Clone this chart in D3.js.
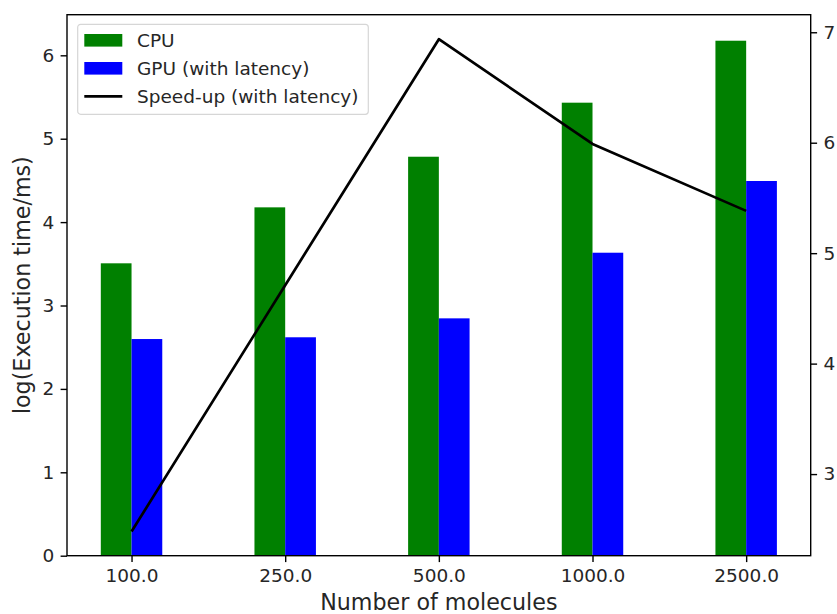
<!DOCTYPE html>
<html>
<head>
<meta charset="utf-8">
<script src="https://cdn.jsdelivr.net/npm/d3@7"></script>
<style>
  body { margin: 0; background: #fff; }
  svg { display: block; font-family: "DejaVu Sans", sans-serif; }
</style>
</head>
<body>
<div id="chart"></div>
<script>
'use strict';

// data
var categories = ['100.0', '250.0', '500.0', '1000.0', '2500.0'];
var cpuTimes = [3.506, 4.177, 4.784, 5.432, 6.175];
var gpuTimes = [2.598, 2.619, 2.846, 3.633, 4.493];
var speedUp = [2.48, 4.71, 6.937, 5.989, 5.383];
var leftTicks = [0, 1, 2, 3, 4, 5, 6];
var rightTicks = [3, 4, 5, 6, 7];
var seriesNames = ['CPU', 'GPU (with latency)', 'Speed-up (with latency)'];

var width = 837, height = 614;
var margin = { top: 14.7, right: 26.3, bottom: 58.3, left: 67 };
var barW = 0.2;
var tickFont = '18.5px', labelFont = '22.2px';

var svg = d3.select('#chart').append('svg')
  .attr('width', width)
  .attr('height', height);

// index-based x scale, like matplotlib's bar positions
var x = d3.scaleLinear()
  .domain([-0.42, categories.length - 1 + 0.42])
  .range([margin.left, width - margin.right]);

var yLeft = d3.scaleLinear()
  .domain([0, 6.487])
  .range([height - margin.bottom, margin.top]);

var yRight = d3.scaleLinear()
  .domain([2.261, 7.159])
  .range([height - margin.bottom, margin.top]);

var plot = svg.append('g');

// CPU bars sit left of the tick, GPU bars right of it
plot.selectAll('.cpu')
  .data(cpuTimes)
  .enter().append('rect')
  .attr('class', 'cpu')
  .attr('x', function(d, i) { return x(i - barW); })
  .attr('width', function(d, i) { return x(i) - x(i - barW); })
  .attr('y', function(d) { return yLeft(d); })
  .attr('height', function(d) { return yLeft(0) - yLeft(d); })
  .attr('fill', '#008000');

plot.selectAll('.gpu')
  .data(gpuTimes)
  .enter().append('rect')
  .attr('class', 'gpu')
  .attr('x', function(d, i) { return x(i); })
  .attr('width', function(d, i) { return x(i + barW) - x(i); })
  .attr('y', function(d) { return yLeft(d); })
  .attr('height', function(d) { return yLeft(0) - yLeft(d); })
  .attr('fill', '#0000ff');

var line = d3.line()
  .x(function(d, i) { return x(i); })
  .y(function(d) { return yRight(d); });

plot.append('path')
  .datum(speedUp)
  .attr('d', line)
  .attr('fill', 'none')
  .attr('stroke', '#000')
  .attr('stroke-width', 2.7)
  .attr('stroke-linejoin', 'round');

// axes
var xAxis = d3.axisBottom(x)
  .tickValues(d3.range(categories.length))
  .tickFormat(function(i) { return categories[i]; })
  .tickSize(6.4).tickPadding(6.4);

var leftAxis = d3.axisLeft(yLeft)
  .tickValues(leftTicks)
  .tickFormat(d3.format('d'))
  .tickSize(6.4).tickPadding(6.4);

var rightAxis = d3.axisRight(yRight)
  .tickValues(rightTicks)
  .tickFormat(d3.format('d'))
  .tickSize(6.4).tickPadding(6.4);

function styleAxis(g) {
  g.selectAll('.domain').remove();
  g.selectAll('line').attr('stroke', '#000').attr('stroke-width', 1.4);
  g.selectAll('text').attr('fill', '#262626').style('font-size', tickFont)
    .style('font-family', '"DejaVu Sans", sans-serif');
}

svg.append('g')
  .attr('transform', 'translate(0,' + (height - margin.bottom) + ')')
  .call(xAxis).call(styleAxis);

svg.append('g')
  .attr('transform', 'translate(' + margin.left + ',0)')
  .call(leftAxis).call(styleAxis);

svg.append('g')
  .attr('transform', 'translate(' + (width - margin.right) + ',0)')
  .call(rightAxis).call(styleAxis);

// frame
svg.append('rect')
  .attr('x', margin.left)
  .attr('y', margin.top)
  .attr('width', width - margin.left - margin.right)
  .attr('height', height - margin.top - margin.bottom)
  .attr('fill', 'none')
  .attr('stroke', '#000')
  .attr('stroke-width', 1.4);

// axis titles
svg.append('text')
  .attr('x', (margin.left + width - margin.right) / 2)
  .attr('y', 610)
  .attr('text-anchor', 'middle')
  .style('font-size', labelFont)
  .attr('fill', '#262626')
  .text('Number of molecules');

svg.append('text')
  .attr('transform', 'translate(30,' + ((margin.top + height - margin.bottom) / 2) + ') rotate(-90)')
  .attr('text-anchor', 'middle')
  .style('font-size', labelFont)
  .attr('fill', '#262626')
  .text('log(Execution time/ms)');

// legend
var legend = svg.append('g').attr('transform', 'translate(77.7,24.3)');

legend.append('rect')
  .attr('width', 290.6)
  .attr('height', 90)
  .attr('rx', 3)
  .attr('fill', '#fff')
  .attr('fill-opacity', 0.8)
  .attr('stroke', '#d6d6d6')
  .attr('stroke-width', 1.2);

var legendColors = ['#008000', '#0000ff', '#000'];

seriesNames.forEach(function(name, i) {
  var cy = 16 + i * 28;
  if (i < 2) {
    legend.append('rect')
      .attr('x', 6.6).attr('y', cy - 6.3)
      .attr('width', 38).attr('height', 12.6)
      .attr('fill', legendColors[i]);
  } else {
    legend.append('line')
      .attr('x1', 6.6).attr('x2', 44.6)
      .attr('y1', cy).attr('y2', cy)
      .attr('stroke', legendColors[i])
      .attr('stroke-width', 2.7);
  }
  legend.append('text')
    .attr('x', 59.3).attr('y', cy)
    .attr('dy', '0.35em')
    .style('font-size', tickFont)
    .attr('fill', '#262626')
    .text(name);
});
</script>
</body>
</html>
